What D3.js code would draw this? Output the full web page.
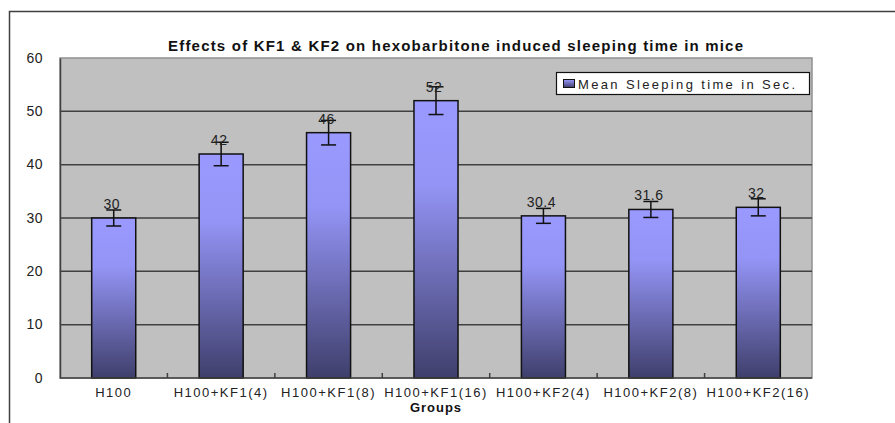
<!DOCTYPE html>
<html><head><meta charset="utf-8">
<script src="https://cdn.jsdelivr.net/npm/d3@7"></script>
<style>body{margin:0;background:#fff}svg{display:block}</style>
</head><body>
<svg id="c" width="895" height="423"></svg>
<script>
const categories = ["H100","H100+KF1(4)","H100+KF1(8)","H100+KF1(16)","H100+KF2(4)","H100+KF2(8)","H100+KF2(16)"];
const values = [30,42,46,52,30.4,31.6,32];
const errors = [1.5,2.2,2.3,2.6,1.4,1.5,1.6];
const valueLabels = ["30","42","46","52","30.4","31.6","32"];
const yTicks = [0,10,20,30,40,50,60];
const titleText = "Effects of KF1 & KF2 on hexobarbitone induced sleeping time in mice";
const legendText = "Mean Sleeping time in Sec.";
const xTitle = "Groups";

const svg = d3.select("#c");
const m = {l:60, r:812, t:58, b:378};
const x = d3.scaleBand().domain(categories).range([m.l, m.r]).paddingInner(0.59).paddingOuter(0.295);
const y = d3.scaleLinear().domain([0,60]).range([m.b, m.t]);

// outer frame
svg.append("path").attr("d","M9.5,423 V11.5 H895").attr("fill","none").attr("stroke","#404040").attr("stroke-width",1.5);

const defs = svg.append("defs");
const g = defs.append("linearGradient").attr("id","bg").attr("x1",0).attr("y1",0).attr("x2",0).attr("y2",1);
g.append("stop").attr("offset","0%").attr("stop-color","#9999ff");
g.append("stop").attr("offset","30%").attr("stop-color","#9494f6");
g.append("stop").attr("offset","100%").attr("stop-color","#3f3f6c");
const g2 = defs.append("linearGradient").attr("id","lg").attr("x1",0).attr("y1",0).attr("x2",0).attr("y2",1);
g2.append("stop").attr("offset","0%").attr("stop-color","#9999ff");
g2.append("stop").attr("offset","100%").attr("stop-color","#3f3f6c");

// plot area
svg.append("rect").attr("x",m.l).attr("y",m.t).attr("width",m.r-m.l).attr("height",m.b-m.t)
  .attr("fill","#c0c0c0").attr("stroke","#909090").attr("stroke-width",1.5);

// gridlines
svg.append("g").selectAll("line").data(yTicks.filter(d=>d>0 && d<60)).join("line")
  .attr("x1",m.l).attr("x2",m.r).attr("y1",d=>y(d)).attr("y2",d=>y(d))
  .attr("stroke","#404040").attr("stroke-width",1.5);

// y axis
const ya = svg.append("g").attr("transform",`translate(${m.l},0)`)
  .call(d3.axisLeft(y).tickValues(yTicks).tickSize(0).tickPadding(17));
ya.select(".domain").attr("stroke","#404040").attr("stroke-width",1.5);
ya.selectAll("text").attr("font-family","Liberation Sans, Arial, sans-serif").attr("font-size",14)
  .attr("letter-spacing","0.5px").attr("fill","#222").attr("dy","0.3em");

// x axis
const xa = svg.append("g").attr("transform",`translate(0,${m.b})`)
  .call(d3.axisBottom(x).tickSize(0).tickPadding(10));
xa.select(".domain").remove();
xa.selectAll("text").attr("font-family","Liberation Sans, Arial, sans-serif").attr("font-size",13)
  .attr("letter-spacing","1.5px").attr("fill","#222");
// inner ticks at category boundaries
const step = x.step();
svg.append("g").selectAll("line").data(d3.range(1,categories.length)).join("line")
  .attr("x1",d=>m.l+d*step).attr("x2",d=>m.l+d*step).attr("y1",m.b).attr("y2",m.b-5)
  .attr("stroke","#404040").attr("stroke-width",1.5);

// bars
svg.append("g").selectAll("rect").data(values).join("rect")
  .attr("x",(d,i)=>x(categories[i])).attr("width",x.bandwidth())
  .attr("y",d=>y(d)).attr("height",d=>y(0)-y(d))
  .attr("fill","url(#bg)").attr("stroke","#111").attr("stroke-width",1.5);

svg.append("line").attr("x1",m.l).attr("x2",m.r).attr("y1",m.b).attr("y2",m.b).attr("stroke","#404040").attr("stroke-width",1.5);

// error bars
const eg = svg.append("g").attr("stroke","#111").attr("stroke-width",1.5);
values.forEach((v,i)=>{
  const cx = x(categories[i]) + x.bandwidth()/2;
  eg.append("line").attr("x1",cx).attr("x2",cx).attr("y1",y(v+errors[i])).attr("y2",y(v-errors[i]));
  eg.append("line").attr("x1",cx-7.5).attr("x2",cx+7.5).attr("y1",y(v+errors[i])).attr("y2",y(v+errors[i]));
  eg.append("line").attr("x1",cx-7.5).attr("x2",cx+7.5).attr("y1",y(v-errors[i])).attr("y2",y(v-errors[i]));
});

// value labels
svg.append("g").selectAll("text").data(valueLabels).join("text")
  .attr("x",(d,i)=>x(categories[i])+x.bandwidth()/2-2).attr("y",(d,i)=>y(values[i])-9)
  .attr("text-anchor","middle").attr("font-family","Liberation Sans, Arial, sans-serif")
  .attr("font-size",14).attr("letter-spacing","0.5px").attr("fill","#222").text(d=>d);

// title
svg.append("text").attr("x",168).attr("y",51).attr("textLength",575).attr("lengthAdjust","spacing")
  .attr("font-family","Liberation Sans, Arial, sans-serif").attr("font-weight","bold").attr("font-size",15)
  .attr("fill","#111").text(titleText);

// legend
svg.append("rect").attr("x",556.5).attr("y",72.5).attr("width",253).attr("height",22)
  .attr("fill","#fff").attr("stroke","#111").attr("stroke-width",1.2);
svg.append("rect").attr("x",563.5).attr("y",79.5).attr("width",11).attr("height",8)
  .attr("fill","url(#lg)").attr("stroke","#111").attr("stroke-width",1);
svg.append("text").attr("x",578).attr("y",89).attr("textLength",217).attr("lengthAdjust","spacing")
  .attr("font-family","Liberation Sans, Arial, sans-serif").attr("font-size",13).attr("fill","#222").text(legendText);

// x title
svg.append("text").attr("x",436).attr("y",412).attr("text-anchor","middle")
  .attr("font-family","Liberation Sans, Arial, sans-serif").attr("font-weight","bold").attr("font-size",13)
  .attr("letter-spacing","1px").attr("fill","#111").text(xTitle);
</script>
</body></html>
